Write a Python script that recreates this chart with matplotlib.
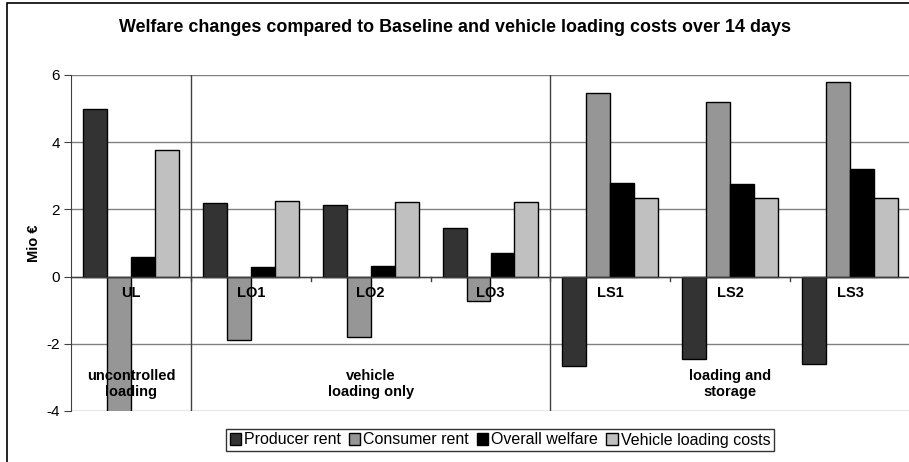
import numpy as np
import matplotlib
matplotlib.use("Agg")
import matplotlib.pyplot as plt
from matplotlib.patches import Rectangle

plt.rcParams['font.family'] = ['Liberation Sans', 'DejaVu Sans']
plt.rcParams['axes.unicode_minus'] = False

## Data (Mio EUR)
scenarios = ['UL', 'LO1', 'LO2', 'LO3', 'LS1', 'LS2', 'LS3']
producer_rent = [5.0, 2.19, 2.12, 1.44, -2.65, -2.44, -2.59]
consumer_rent = [-4.3, -1.88, -1.80, -0.73, 5.47, 5.19, 5.79]
overall_welfare = [0.57, 0.30, 0.33, 0.70, 2.79, 2.75, 3.21]
vehicle_costs = [3.78, 2.24, 2.23, 2.23, 2.34, 2.33, 2.34]
series_names = ['Producer rent', 'Consumer rent', 'Overall welfare', 'Vehicle loading costs']
series_colors = ['#333333', '#969696', '#000000', '#c0c0c0']

groups = ['uncontrolled\nloading', 'vehicle\nloading only', 'loading and\nstorage']
group_centers = [0, 2, 5]
group_borders = [0.5, 3.5]

fig = plt.figure(figsize=(9.09, 4.62), dpi=100)
ax = fig.add_axes([71/909, 51/462, 839/909, 336/462])

x = np.arange(len(scenarios))
w = 0.2
all_series = [producer_rent, consumer_rent, overall_welfare, vehicle_costs]
for k, (vals, name, col) in enumerate(zip(all_series, series_names, series_colors)):
    ax.bar(x + (k - 1.5)*w, vals, width=w, color=col, edgecolor='black',
           linewidth=1.0, label=name, zorder=3)

ax.set_xlim(-0.5, 6.5)
ax.set_ylim(-4, 6)
ax.set_yticks([-4, -2, 0, 2, 4, 6])
ax.yaxis.grid(True, color='#808080', linewidth=1.0, zorder=0)
ax.set_axisbelow(True)
for s in ['top', 'right', 'bottom']:
    ax.spines[s].set_visible(False)
ax.spines['left'].set_color('#404040')
ax.tick_params(axis='y', direction='out', length=5, labelsize=11, pad=3, color='#404040')
ax.set_xticks([])
ax.set_ylabel('Mio €', fontsize=10.5, fontweight='bold', labelpad=4)

## zero line with category tick marks
ax.axhline(0, color='#404040', linewidth=1.0, zorder=4)
for b in np.arange(0.5, 6.5, 1.0):
    ax.plot([b, b], [0, -0.12], color='#404040', linewidth=1.0, zorder=4, clip_on=False)

## group separators
for b in group_borders:
    ax.axvline(b, color='#404040', linewidth=1.0, zorder=2)

for i, lab in enumerate(scenarios):
    ax.text(i, -0.5, lab, ha='center', va='center', fontsize=10.5, fontweight='bold', zorder=5)
for c, g in zip(group_centers, groups):
    ax.text(c, -3.2, g, ha='center', va='center', fontsize=10.5, fontweight='bold',
            linespacing=1.25, zorder=5)

fig.text(455/909, 1 - 28/462, 'Welfare changes compared to Baseline and vehicle loading costs over 14 days',
         ha='center', va='center', fontsize=12.9, fontweight='bold')

leg = fig.legend(loc='center', bbox_to_anchor=(500/909, 1 - 440/462), ncol=4,
                 fontsize=11.5, frameon=True, fancybox=False, edgecolor='black',
                 handlelength=0.7, handleheight=0.7, handletextpad=0.2,
                 columnspacing=0.5, borderpad=0.2, borderaxespad=0)
leg.get_frame().set_linewidth(1.0)

## outer chart border
fig.patches.append(Rectangle((7/909, -0.1), 1.1, 1 - 3/462 + 0.1, transform=fig.transFigure,
                             fill=False, edgecolor='black', linewidth=1.2))

fig.savefig('out.png', dpi=100)
